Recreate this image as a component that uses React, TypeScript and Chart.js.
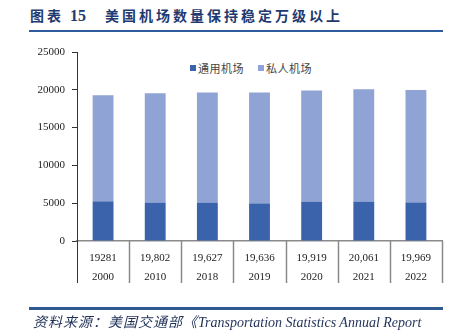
import React, { useEffect, useRef } from "react";
import { Chart, registerables } from "chart.js";

Chart.register(...registerables);

const years = ["2000", "2010", "2018", "2019", "2020", "2021", "2022"];
const totalLabels = ["19281", "19,802", "19,627", "19,636", "19,919", "20,061", "19,969"];
const publicAirports = [5250, 5070, 5070, 4980, 5200, 5200, 5110];
const privateAirports = [14031, 14480, 14557, 14656, 14719, 14861, 14859];
const yTicks = [0, 5000, 10000, 15000, 20000, 25000];
const seriesNames = ["通用机场", "私人机场"];
const colors = ["#3A63AB", "#8FA3D5"];

const separatorPlugin = {
  id: "separators",
  afterDraw(chart: any) {
    const { ctx, chartArea } = chart;
    const x = chart.scales.x;
    const n = years.length;
    const w = (chartArea.right - chartArea.left) / n;
    ctx.save();
    ctx.strokeStyle = "#8a8a8a";
    ctx.lineWidth = 1.5;
    for (let k = 1; k <= n; k++) {
      const px = Math.round(x.left + k * w) + 0.5;
      ctx.beginPath();
      ctx.moveTo(px, chartArea.bottom);
      ctx.lineTo(px, chartArea.bottom + 42);
      ctx.stroke();
    }
    ctx.strokeStyle = "#333";
    ctx.lineWidth = 1;
    const lx = Math.round(chartArea.left) + 0.5;
    ctx.beginPath();
    ctx.moveTo(lx, chartArea.bottom);
    ctx.lineTo(lx, chartArea.bottom + 42);
    ctx.stroke();
    ctx.restore();
  },
};

export default function App() {
  const ref = useRef<HTMLCanvasElement>(null);
  useEffect(() => {
    if (!ref.current) return;
    const chart = new Chart(ref.current, {
      type: "bar",
      data: {
        labels: years.map((y, i) => [totalLabels[i], y]),
        datasets: [
          { label: seriesNames[0], data: publicAirports, backgroundColor: colors[0], barPercentage: 0.4, categoryPercentage: 1 },
          { label: seriesNames[1], data: privateAirports, backgroundColor: colors[1], barPercentage: 0.4, categoryPercentage: 1 },
        ],
      },
      options: {
        animation: false,
        responsive: false,
        maintainAspectRatio: false,
        layout: { padding: { top: 52, right: 12, left: 0, bottom: 0 } },
        plugins: { legend: { display: false }, tooltip: { enabled: false }, title: { display: false } },
        scales: {
          x: {
            stacked: true,
            grid: { display: false, drawTicks: false },
            border: { display: true, color: "#8a8a8a", width: 1.5 },
            ticks: {
              color: "#222",
              padding: 7,
              font: { family: "'Liberation Serif', 'Times New Roman', serif", size: 11, lineHeight: 1.75 },
            },
            afterFit: (s: any) => { s.height = 95; },
          },
          y: {
            stacked: true,
            min: 0,
            max: 25000,
            afterBuildTicks: (s: any) => { s.ticks = yTicks.map((v) => ({ value: v })); },
            grid: { drawOnChartArea: false, drawTicks: true, tickLength: 5, color: "#333" },
            border: { display: true, color: "#333", width: 1 },
            ticks: {
              color: "#222",
              padding: 7,
              callback: (v: any) => String(v),
              font: { family: "'Liberation Serif', 'Times New Roman', serif", size: 11 },
            },
            afterFit: (s: any) => { s.width = 77; },
          },
        },
      },
      plugins: [separatorPlugin],
    });
    return () => chart.destroy();
  }, []);

  const cjk = "'Noto Sans CJK SC', sans-serif";
  return (
    <div style={{ position: "fixed", left: 0, top: 0, width: 454, height: 336, background: "#fff", overflow: "hidden" }}>
      <div style={{ position: "absolute", left: 30, top: 5, fontFamily: cjk, fontWeight: 700, fontSize: 14, color: "#1F3A70", whiteSpace: "nowrap", lineHeight: "20px" }}>
        <span style={{ letterSpacing: 3 }}>图表</span>
        <span style={{ display: "inline-block", width: 6 }} />
        <span style={{ fontFamily: "'Liberation Serif', serif", fontSize: 16 }}>15</span>
        <span style={{ display: "inline-block", width: 19 }} />
        <span style={{ letterSpacing: 3 }}>美国机场数量保持稳定万级以上</span>
      </div>
      <div style={{ position: "absolute", left: 29, top: 30, width: 414, height: 2, background: "#2D5B9C" }} />
      <div style={{ position: "absolute", left: 190, top: 60, display: "flex", alignItems: "center", fontFamily: cjk, fontSize: 11, color: "#444", whiteSpace: "nowrap", letterSpacing: 0.5 }}>
        <span style={{ display: "inline-block", width: 6, height: 6, background: colors[0], marginRight: 2 }} />
        {seriesNames[0]}
        <span style={{ display: "inline-block", width: 6, height: 6, background: colors[1], marginLeft: 14, marginRight: 2 }} />
        {seriesNames[1]}
      </div>
      <canvas ref={ref} width={454} height={336} style={{ position: "absolute", left: 0, top: 0, width: 454, height: 336 }} />
      <div style={{ position: "absolute", left: 29, top: 307, width: 414, height: 3, background: "#2F5A8F" }} />
      <div style={{ position: "absolute", left: 33, top: 313, fontStyle: "italic", fontSize: 14, color: "#1F3057", whiteSpace: "nowrap", lineHeight: "20px", fontFamily: "'Liberation Serif', " + cjk }}>
        <span style={{ letterSpacing: 1 }}>资料来源：美国交通部《</span>Transportation Statistics Annual Report
      </div>
    </div>
  );
}
